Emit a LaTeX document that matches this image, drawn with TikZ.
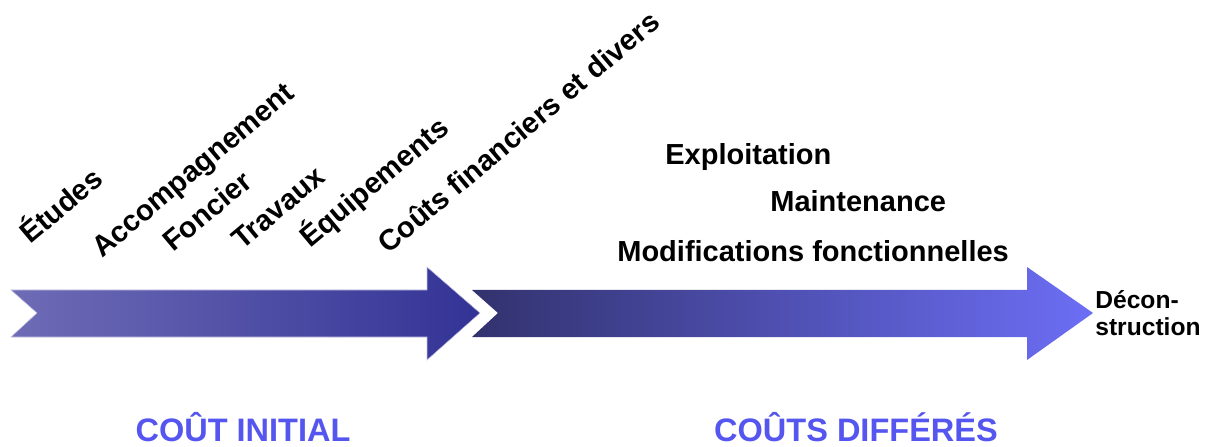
\documentclass[tikz,border=0pt]{standalone}
\usepackage{fontspec}
\setmainfont{Liberation Sans}
\usepackage{tikz}
\usetikzlibrary{positioning}

\definecolor{initleft}{RGB}{110,108,182}
\definecolor{initright}{RGB}{51,51,150}
\definecolor{diffleft}{RGB}{50,50,110}
\definecolor{diffright}{RGB}{108,110,245}
\definecolor{titleblue}{RGB}{85,85,240}

\begin{document}
\begin{tikzpicture}[
    poste/.style={rotate=40, anchor=base west, inner sep=0pt, font=\bfseries\fontsize{16.6}{19}\selectfont},
    phase/.style={anchor=base west, inner sep=0pt, font=\bfseries\fontsize{16.5}{19}\selectfont},
    titre/.style={anchor=base, inner sep=0pt, text=titleblue, font=\bfseries\fontsize{18.5}{22}\selectfont}]
    \useasboundingbox (0,0) rectangle (24.26,8.92);

    % Initial cost arrow
    \shade[left color=initleft, right color=initright, draw=white!60!initleft, line width=0.3pt]
        (0.22,3.12) -- (8.54,3.12) -- (8.54,3.58) -- (9.60,2.66) -- (8.54,1.72)
        -- (8.54,2.18) -- (0.22,2.18) -- (0.74,2.66) -- cycle;

    % Deferred cost arrow
    \shade[left color=diffleft, right color=diffright]
        (9.44,3.12) -- (20.54,3.12) -- (20.54,3.58) -- (21.86,2.66) -- (20.54,1.72)
        -- (20.54,2.18) -- (9.44,2.18) -- (9.96,2.66) -- cycle;

    % Initial cost items
    \node[poste] (etudes) at (0.60,4.02) {Études};
    \node[poste] (accomp) at (2.04,3.74) {Accompagnement};
    \node[poste] (foncier) at (3.46,3.86) {Foncier};
    \node[poste] (travaux) at (4.84,3.90) {Travaux};
    \node[poste] (equip) at (6.20,3.94) {Équipements};
    \node[poste] (financ) at (7.76,3.82) {Coûts financiers et divers};

    % Deferred cost items
    \node[phase] (exploit) at (13.30,5.62) {Exploitation};
    \node[phase] (maint) at (15.40,4.68) {Maintenance};
    \node[phase] (modif) at (12.34,3.68) {Modifications fonctionnelles};
    \node[anchor=west, inner sep=0pt, align=left, font=\bfseries\fontsize{14}{15.6}\selectfont] (decons) at (21.90,2.66) {Décon-\\struction};

    % Titles
    \node[titre] (initial) at (4.86,0.10) {COÛT INITIAL};
    \node[titre] (differes) at (17.12,0.10) {COÛTS DIFFÉRÉS};
\end{tikzpicture}
\end{document}
